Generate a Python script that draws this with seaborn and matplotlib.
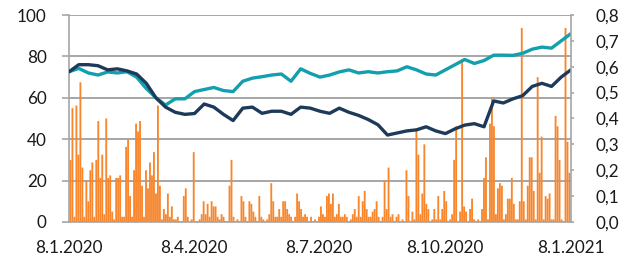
import numpy as np
import pandas as pd
import matplotlib
matplotlib.use('Agg')
import matplotlib.pyplot as plt
import seaborn as sns

# daily bars, right axis (0..0.8)
bar_share = [
    0.24, 0.44, 0.02, 0.45, 0.26, 0.54, 0.21, 0.02, 0.16, 0.08,
    0.20, 0.23, 0.02, 0.24, 0.39, 0.17, 0.26, 0.03, 0.40, 0.17,
    0.18, 0.04, 0.01, 0.17, 0.17, 0.18, 0.02, 0.02, 0.29, 0.32,
    0.10, 0.02, 0.20, 0.38, 0.35, 0.39, 0.14, 0.02, 0.20, 0.13,
    0.23, 0.18, 0.27, 0.11, 0.45, 0.14, 0.01, 0.05, 0.03, 0.11,
    0.02, 0.06, 0.01, 0.01, 0.02, 0.00, 0.00, 0.10, 0.13, 0.02,
    0.00, 0.01, 0.27, 0.00, 0.00, 0.01, 0.03,
    0.08, 0.03, 0.07, 0.02, 0.08, 0.06, 0.06, 0.02, 0.01, 0.03,
    0.02, 0.00, 0.00, 0.14, 0.24, 0.02, 0.00, 0.01, 0.00, 0.10,
    0.08, 0.02, 0.00, 0.08, 0.07, 0.04, 0.02, 0.00, 0.10, 0.02,
    0.01, 0.00, 0.01, 0.03, 0.15, 0.08, 0.02, 0.02, 0.05, 0.02,
    0.08, 0.08, 0.05, 0.03, 0.02, 0.00, 0.02, 0.11, 0.08, 0.05,
    0.02, 0.03, 0.02, 0.00, 0.02, 0.00, 0.01, 0.00, 0.02, 0.06,
    0.03, 0.02, 0.10, 0.11, 0.07, 0.11, 0.02, 0.03, 0.07, 0.02,
    0.02, 0.03, 0.02, 0.00, 0.01, 0.03, 0.05, 0.02, 0.10, 0.02,
    0.08, 0.12, 0.05, 0.02, 0.02, 0.04, 0.05, 0.08, 0.02, 0.00,
    0.02, 0.16, 0.05, 0.21, 0.02, 0.03, 0.00, 0.02, 0.03, 0.00,
    0.01, 0.00, 0.20, 0.10, 0.00, 0.04, 0.01, 0.36, 0.26, 0.03,
    0.11, 0.30, 0.07, 0.05, 0.00, 0.01, 0.05, 0.01, 0.10, 0.01,
    0.05, 0.12, 0.08, 0.00, 0.01, 0.03, 0.24, 0.37, 0.00, 0.04,
    0.63, 0.06, 0.04, 0.00, 0.05, 0.09, 0.01, 0.00, 0.01, 0.00,
    0.05, 0.17, 0.25, 0.01, 0.38, 0.48, 0.37, 0.03, 0.13, 0.15,
    0.14, 0.01, 0.03, 0.09, 0.09, 0.17, 0.07, 0.01, 0.01, 0.08,
    0.75, 0.08, 0.01, 0.14, 0.25, 0.25, 0.12, 0.01, 0.56, 0.19,
    0.33, 0.01, 0.10, 0.09, 0.11, 0.01, 0.01, 0.41, 0.37, 0.24,
    0.01, 0.00, 0.75, 0.31, 0.19,
]

# weekly points, left axis (0..100)
teal_vals = [
    72.6, 74.2, 72.0, 71.0, 72.5, 72.0, 72.6, 70.0, 64.5, 60.0,
    56.5, 59.5, 59.5, 63.0, 64.0, 65.0, 63.5, 63.0, 68.0, 69.5,
    70.2, 71.0, 71.5, 68.0, 74.0, 71.8, 70.0, 71.0, 72.5, 73.5,
    72.0, 72.6, 72.0, 72.6, 73.0, 75.0, 73.5, 71.5, 71.0, 73.5,
    76.0, 78.5, 76.6, 78.0, 80.6, 80.6, 80.5, 81.5, 83.5, 84.5,
    84.0, 87.5, 91.0,
]
navy_vals = [
    72.6, 76.0, 76.0, 75.5, 73.5, 74.0, 73.0, 71.5, 67.0, 60.0,
    55.5, 53.0, 52.0, 52.4, 57.0, 55.5, 52.0, 49.0, 55.0, 55.5,
    52.5, 53.5, 53.5, 52.0, 55.5, 55.0, 53.5, 52.5, 55.0, 53.0,
    51.5, 49.5, 47.0, 42.0, 43.0, 44.0, 44.5, 46.0, 44.0, 42.7,
    45.0, 46.8, 47.5, 46.0, 58.5, 57.5, 59.5, 61.0, 65.5, 67.0,
    65.5, 70.0, 73.5,
]

tick_dates = ['2020-01-08', '2020-04-08', '2020-07-08', '2020-10-08', '2021-01-08']
tick_labels = ['8.1.2020', '8.4.2020', '8.7.2020', '8.10.2020', '8.1.2021']

orange = '#F8862C'
teal = '#129FAE'
navy = '#1D3A5A'
grey = '#A6A6A6'

bar_dates = pd.date_range('2020-01-09', '2021-01-07', periods=len(bar_share))
line_dates = pd.date_range('2020-01-08', '2021-01-08', periods=len(teal_vals))

sns.set_style('white')
plt.rcParams['font.family'] = ['Lato', 'DejaVu Sans']

fig, ax = plt.subplots(figsize=(6.28, 2.59), dpi=100)
fig.subplots_adjust(left=0.110, right=0.909, top=0.942, bottom=0.143)
ax2 = ax.twinx()

# right axis 0.8 equals left axis 100
bars = ax.bar(bar_dates, np.array(bar_share) * 125, width=1.35, color=orange,
              edgecolor='none', linewidth=0, zorder=2)
for b in bars:
    b.set_snap(False)
sns.lineplot(x=line_dates, y=teal_vals, ax=ax, color=teal, linewidth=2.4, zorder=3)
sns.lineplot(x=line_dates, y=navy_vals, ax=ax, color=navy, linewidth=2.4, zorder=4)

ax.set_ylim(0, 100)
ax.set_yticks(range(0, 101, 20))
ax2.set_ylim(0, 0.8)
r_ticks = np.arange(0, 0.81, 0.1)
ax2.set_yticks(r_ticks)
ax2.set_yticklabels([f'{v:.1f}'.replace('.', ',') for v in r_ticks])

ax.set_xlim(pd.Timestamp('2020-01-08'), pd.Timestamp('2021-01-08'))
ax.set_xticks(pd.to_datetime(tick_dates))
ax.set_xticklabels(tick_labels)
ax.set_xlabel('')
ax.set_ylabel('')

ax.yaxis.grid(True, color=grey, linewidth=1.4)
ax.xaxis.grid(False)
ax.set_axisbelow(True)

for s in ['top', 'right']:
    ax.spines[s].set_visible(False)
for s in ['top', 'left', 'bottom']:
    ax2.spines[s].set_visible(False)
for sp in [ax.spines['left'], ax.spines['bottom'], ax2.spines['right']]:
    sp.set_color(grey)
    sp.set_linewidth(1.2)

ax.tick_params(axis='y', length=5, width=1.2, color=grey, pad=11, labelsize=12.3, labelcolor='#1a1a1a')
ax.tick_params(axis='x', length=4, width=1.2, color=grey, pad=9, labelsize=12.3, labelcolor='#1a1a1a')
ax2.tick_params(axis='y', length=2.5, width=1.2, color=grey, pad=15, labelsize=12.3, labelcolor='#1a1a1a')

fig.savefig('out.png', dpi=100)
